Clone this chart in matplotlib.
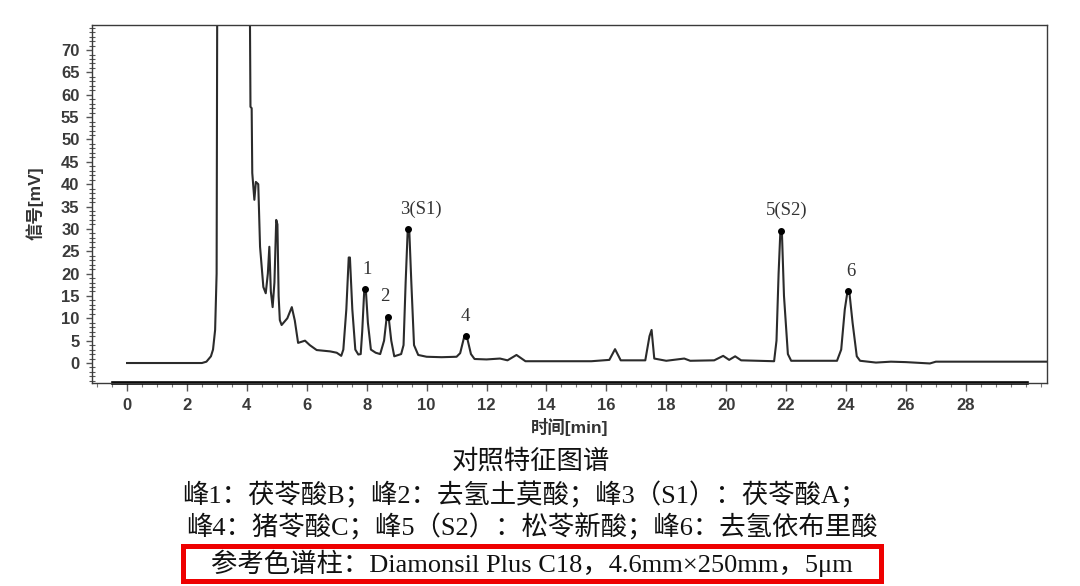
import matplotlib
matplotlib.use('Agg')
import matplotlib.pyplot as plt
from matplotlib.ticker import MultipleLocator
from matplotlib.patches import Rectangle

plt.rcParams['font.family'] = ['Liberation Sans', 'Noto Sans CJK SC', 'DejaVu Sans']

# ---------- chromatogram trace (min, mV) ----------
time_min = [0.0, 2.5, 2.65, 2.8, 2.87, 2.94, 2.99, 3.01, 4.10, 4.12, 4.16, 4.18,
            4.25, 4.30, 4.38, 4.44, 4.55, 4.63, 4.70, 4.75, 4.80, 4.86, 4.92, 4.98,
            5.02, 5.06, 5.10, 5.16, 5.35, 5.5, 5.6, 5.71, 5.94, 6.1, 6.33, 6.78,
            7.0, 7.15, 7.22, 7.32, 7.40, 7.44, 7.52, 7.62, 7.72, 7.80, 7.85, 7.92,
            7.97, 8.04, 8.14, 8.30, 8.45, 8.58, 8.67, 8.73, 8.82, 8.92, 9.15, 9.23,
            9.30, 9.37, 9.42, 9.49, 9.58, 9.72, 10.0, 10.5, 11.0, 11.12, 11.26, 11.34,
            11.48, 11.6, 12.0, 12.45, 12.7, 13.0, 13.3, 14.0, 15.5, 16.1, 16.29, 16.48,
            17.3, 17.44, 17.51, 17.6, 18.0, 18.6, 18.8, 19.6, 19.9, 20.1, 20.3, 20.5,
            21.6, 21.68, 21.75, 21.81, 21.86, 21.93, 22.06, 22.17, 23.7, 23.84, 23.96, 24.05,
            24.11, 24.22, 24.36, 24.47, 25.0, 25.5, 26.0, 26.8, 27.0, 30.7]
signal_mv = [0.0, 0.0, 0.3, 1.5, 3.0, 7.4, 20, 80, 80, 57.3, 57, 42.5,
             36.5, 40.5, 40, 26, 17, 15.6, 20, 26, 16, 12.5, 18, 32,
             31, 15, 9.6, 8.5, 10, 12.5, 9.5, 4.5, 5, 4, 2.9, 2.6,
             2.3, 1.6, 3.0, 12, 23.6, 23.6, 12, 3, 1.9, 2.0, 7, 16.5,
             16.5, 9, 3, 2.3, 2.0, 5, 10.4, 10.4, 5, 1.5, 2.0, 4,
             18, 29.9, 29.9, 18, 4, 1.8, 1.4, 1.3, 1.4, 2.2, 6.0, 6.0,
             2.0, 0.9, 0.8, 1.0, 0.6, 1.8, 0.4, 0.4, 0.4, 0.7, 3.1, 0.6,
             0.6, 6.0, 7.4, 1.0, 0.5, 1.0, 0.5, 0.6, 1.6, 0.7, 1.5, 0.6,
             0.4, 5, 20, 29.6, 29.4, 15, 2, 0.5, 0.5, 3, 12, 16,
             16, 9, 1.5, 0.5, 0.1, 0.3, 0.2, -0.1, 0.3, 0.3]

# labelled peaks
peak_labels = ['1', '2', '3(S1)', '4', '5(S2)', '6']
peak_time = [7.945, 8.70, 9.395, 11.30, 21.83, 24.08]
peak_height = [16.5, 10.4, 29.9, 6.0, 29.6, 16.0]

caption_lines = [
    '对照特征图谱',
    '峰1：茯苓酸B；峰2：去氢土莫酸；峰3（S1）：茯苓酸A；',
    '峰4：猪苓酸C；峰5（S2）：松苓新酸；峰6：去氢依布里酸',
    '参考色谱柱：Diamonsil Plus C18，4.6mm×250mm，5μm',
]

W, H = 1080, 586
fig = plt.figure(figsize=(W / 100, H / 100), dpi=100)
ax = fig.add_axes([92 / W, 1 - 383 / H, 955 / W, 358 / H])

ax.plot(time_min, signal_mv, color='#2b2b2b', linewidth=1.5)
ax.plot(peak_time, peak_height, 'o', color='black', markersize=4)
label_dx = [2, -3, 12, 0, 6, 2]   # pixel offsets of the labels
for lab, t, h, dx in zip(peak_labels, peak_time, peak_height, label_dx):
    ax.annotate(lab, (t, h), xytext=(dx * 0.72, 14.5), textcoords='offset points',
                ha='center', va='center', fontsize=13.5, color='#333333',
                family=['Liberation Serif', 'DejaVu Serif'])

ax.set_xlim(-1.17, 30.71)
ax.set_ylim(-4.47, 75.6)
ax.set_xticks(range(0, 30, 2))
ax.xaxis.set_minor_locator(MultipleLocator(0.5))
ax.set_yticks(range(0, 75, 5))
ax.yaxis.set_minor_locator(MultipleLocator(1))

for s in ax.spines.values():
    s.set_color('#3a3a3a')
    s.set_linewidth(1.0)
ax.axhline(-4.47, 0.022, 0.979, color='black', linewidth=2.6, clip_on=False)

ax.tick_params(axis='x', which='major', direction='out', length=6, width=1,
               color='#555555', pad=5, labelsize=12, labelcolor='#3a3a3a')
ax.tick_params(axis='x', which='minor', direction='out', length=3, width=0.8,
               color='#777777')
ax.tick_params(axis='y', which='major', direction='out', length=4, width=1,
               color='#555555', pad=5, labelsize=12, labelcolor='#3a3a3a')
ax.tick_params(axis='y', which='minor', direction='inout', length=4, width=0.8,
               color='#555555')
for lbl in ax.get_xticklabels() + ax.get_yticklabels():
    lbl.set_fontweight('bold')

fig.text(35 / W, 1 - 203 / H, '信号[mV]', rotation=90, ha='center', va='center',
         fontsize=12.5, fontweight='bold', color='#333333')
fig.text(570 / W, 1 - 427 / H, '时间[min]', ha='center', va='center',
         fontsize=12.5, fontweight='bold', color='#333333')

# caption under the chart
serif = ['Liberation Serif', 'Noto Sans CJK SC']
caption_y = [461, 495, 527, 563]
caption_x = [531, 524, 532, 532]
for txt, cx, cy in zip(caption_lines, caption_x, caption_y):
    fig.text(cx / W, 1 - cy / H, txt, ha='center', va='center',
             fontsize=19, family=serif, color='#111111')

fig.patches.append(Rectangle((182.5 / W, 1 - 580.5 / H), 698 / W, 35 / H,
                             transform=fig.transFigure, fill=False,
                             edgecolor='#ee0000', linewidth=3.6))

fig.savefig('out.png', dpi=100)
